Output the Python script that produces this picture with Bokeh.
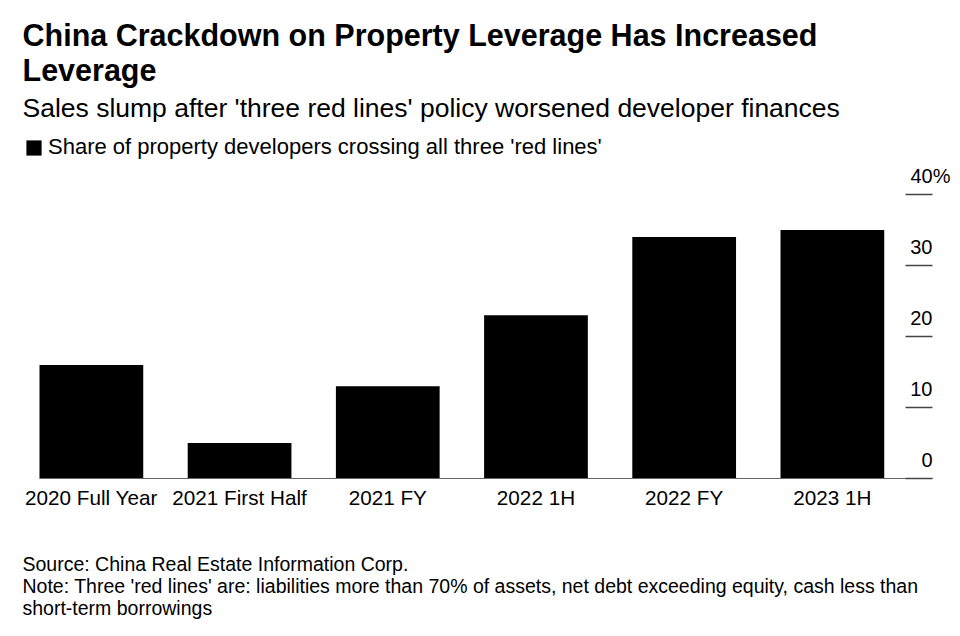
from bokeh.plotting import figure
from bokeh.models import (ColumnDataSource, Range1d, Label, LabelSet, Legend, LegendItem)
from bokeh.core.properties import value
from bokeh.embed import file_html
from bokeh.resources import INLINE

# ---- data ----
categories = ["2020 Full Year", "2021 First Half", "2021 FY", "2022 1H", "2022 FY", "2023 1H"]
share = [16, 5, 13, 23, 34, 35]
y_ticks = [0, 10, 20, 30, 40]
y_tick_labels = ["0", "10", "20", "30", "40%"]

title_line1 = "China Crackdown on Property Leverage Has Increased"
title_line2 = "Leverage"
subtitle = "Sales slump after 'three red lines' policy worsened developer finances"
legend_text = "Share of property developers crossing all three 'red lines'"
source_text = "Source: China Real Estate Information Corp."
note_line1 = "Note: Three 'red lines' are: liabilities more than 70% of assets, net debt exceeding equity, cash less than"
note_line2 = "short-term borrowings"

FONT = "Liberation Sans"

# ---- layout (pixels) ----
W, H = 956, 628
BASE_PX = 478          # pixel row of value 0
PX_PER_Y = 7.1         # pixels per percentage point
BAND_PX = 148.2        # pixels per category
BAR_W = 0.7
X0_PX = 39 + BAR_W / 2 * BAND_PX   # pixel column of first category centre
TICK_L_PX, TICK_R_PX = 905, 932


def px2x(px):
    return (px - X0_PX) / BAND_PX


p = figure(width=W, height=H, output_backend="svg", toolbar_location=None,
           x_range=Range1d(px2x(0), px2x(W)),
           y_range=Range1d(-(H - BASE_PX) / PX_PER_Y, BASE_PX / PX_PER_Y),
           x_axis_location=None, y_axis_location=None,
           min_border=0, min_border_left=0, min_border_right=0,
           min_border_top=0, min_border_bottom=0)
p.title = None
p.outline_line_color = None
p.xgrid.visible = False
p.ygrid.visible = False
p.background_fill_color = "white"
p.border_fill_color = "white"

xs = list(range(len(categories)))
src = ColumnDataSource(dict(x=xs, share=share, cat=categories))
bars = p.vbar(x="x", top="share", width=BAR_W, source=src, fill_color="black", line_color=None)

# baseline (x axis line)
p.segment(x0=[-BAR_W / 2], x1=[px2x(TICK_R_PX)], y0=[0], y1=[0],
          line_color="#666666", line_width=1)

# y tick marks on the right
tick_src = ColumnDataSource(dict(y=y_ticks, text=y_tick_labels,
                                 x0=[px2x(TICK_L_PX)] * len(y_ticks),
                                 x1=[px2x(TICK_R_PX)] * len(y_ticks),
                                 xo=[18 if "%" in t else 0 for t in y_tick_labels]))
p.segment(x0="x0", x1="x1", y0="y", y1="y", source=tick_src,
          line_color="#444444", line_width=1.5)
p.add_layout(LabelSet(x="x1", y="y", text="text", source=tick_src, x_offset="xo", y_offset=12,
                      text_align="right", text_baseline="alphabetic",
                      text_font=value(FONT), text_font_size="20px", text_color="black"))

# category labels
p.add_layout(LabelSet(x="x", y=0, text="cat", source=src, y_offset=-26,
                      text_align="center", text_baseline="alphabetic",
                      text_font=value(FONT), text_font_size="20.7px", text_color="black"))

# legend
legend = Legend(items=[LegendItem(label=legend_text, renderers=[bars])],
                location=(24, H - 160), orientation="horizontal",
                glyph_width=19, glyph_height=19, label_height=15, label_standoff=5,
                padding=0, margin=0, spacing=0,
                border_line_color=None, background_fill_alpha=0,
                label_text_font=FONT, label_text_font_size="22px", label_text_color="black")
p.add_layout(legend, "center")


def lab(text, img_x, img_center, size, style="normal", color="black"):
    p.add_layout(Label(x=img_x, y=H - img_center, x_units="screen", y_units="screen",
                       text=text, text_font=FONT, text_font_size=size, text_font_style=style,
                       text_color=color, text_baseline="middle", text_align="left"))


lab(title_line1, 22, 34, "30.5px", "bold")
lab(title_line2, 22, 69, "30.5px", "bold")
lab(subtitle, 22, 107.5, "26.5px")
lab(source_text, 22, 563, "19.5px")
lab(note_line1, 22, 585, "19.5px")
lab(note_line2, 22, 607, "19.5px")

open("out.html", "w").write(file_html(p, INLINE))
